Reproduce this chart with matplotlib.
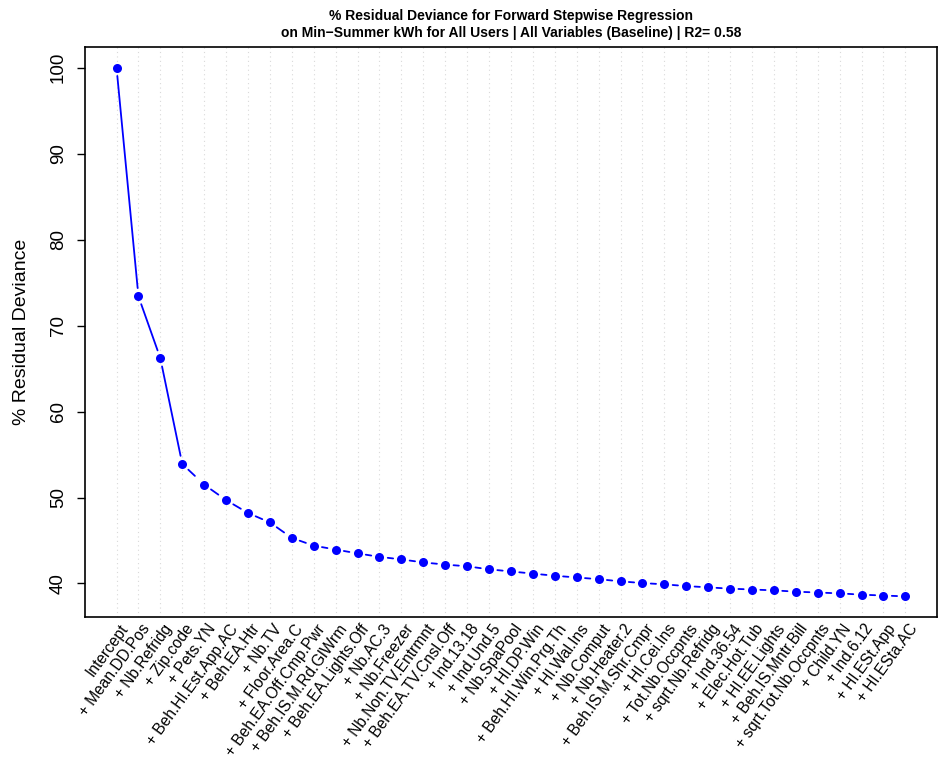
import matplotlib.pyplot as plt

plt.rcParams['font.family'] = ['Liberation Sans', 'DejaVu Sans']

# Step labels in the order they entered the model
steps = ["Intercept", "+ Mean.DD.Pos", "+ Nb.Refridg", "+ Zip.code", "+ Pets.YN",
         "+ Beh.HI.Est.App.AC", "+ Beh.EA.Htr", "+ Nb.TV", "+ Floor.Area.C",
         "+ Beh.EA.Off.Cmp.Pwr", "+ Beh.IS.M.Rd.GlWrm", "+ Beh.EA.Lights.Off",
         "+ Nb.AC.3", "+ Nb.Freezer", "+ Nb.Non.TV.Entrmnt", "+ Beh.EA.TV.Cnsl.Off",
         "+ Ind.13.18", "+ Ind.Und.5", "+ Nb.SpaPool", "+ HI.DP.Win",
         "+ Beh.HI.Win.Prg.Th", "+ HI.Wal.Ins", "+ Nb.Comput", "+ Nb.Heater.2",
         "+ Beh.IS.M.Shr.Cmpr", "+ HI.Cei.Ins", "+ Tot.Nb.Occpnts", "+ sqrt.Nb.Refridg",
         "+ Ind.36.54", "+ Elec.Hot.Tub", "+ HI.EE.Lights", "+ Beh.IS.Mntr.Bill",
         "+ sqrt.Tot.Nb.Occpnts", "+ Child.YN", "+ Ind.6.12", "+ HI.ESt.App",
         "+ HI.ESta.AC"]

# % residual deviance after each step
resid_dev = [100.0, 73.4, 66.2, 53.9, 51.5, 49.7, 48.2, 47.1, 45.3, 44.4, 43.95,
             43.5, 43.1, 42.8, 42.45, 42.2, 42.0, 41.65, 41.4, 41.15, 40.9, 40.7,
             40.5, 40.25, 40.05, 39.9, 39.7, 39.55, 39.4, 39.3, 39.2, 39.05, 38.95,
             38.85, 38.7, 38.6, 38.5]

n_solid = 3  # first segments drawn with a solid line

x = list(range(len(steps)))

fig = plt.figure(figsize=(9.43, 7.61), dpi=100)
ax = fig.add_axes([0.0901, 0.1892, 0.9035, 0.749])

# light dotted vertical guides at each step
for xi in x:
    ax.axvline(xi, color='#d9d9d9', linestyle=(0, (1, 3)), linewidth=0.8, zorder=0)

# connect points with small gaps around each marker (like R type="b")
for i in range(len(x) - 1):
    ls = '-' if i < n_solid else (0, (5, 5))
    ax.annotate('', xy=(x[i + 1], resid_dev[i + 1]), xytext=(x[i], resid_dev[i]),
                arrowprops=dict(arrowstyle='-', color='blue', lw=1.3, linestyle=ls,
                                shrinkA=6, shrinkB=6), zorder=2)
ax.plot(x, resid_dev, 'o', color='blue', markersize=6.5, markeredgewidth=0, zorder=3)

ax.set_xlim(-1.44, len(steps) - 1 + 1.44)
ax.set_ylim(36.1, 102.4)
ax.set_yticks([40, 50, 60, 70, 80, 90, 100])
ax.set_yticklabels(['40', '50', '60', '70', '80', '90', '100'], rotation=90,
                   va='center', fontsize=13.5)
ax.tick_params(axis='y', length=6, pad=7, width=1)

ax.set_xticks(x)
ax.set_xticklabels([])
ax.tick_params(axis='x', length=0)
for xi, lab in zip(x, steps):
    ax.text(xi + 0.12, -0.008, lab, transform=ax.get_xaxis_transform(),
            rotation=54, ha='right', va='top', rotation_mode='anchor', fontsize=11.2)

for sp in ax.spines.values():
    sp.set_linewidth(1.2)

ax.set_ylabel('% Residual Deviance', fontsize=14, labelpad=14)

mid = 0.0901 + 0.9035 / 2
fig.text(mid, 0.988, '% Residual Deviance for Forward Stepwise Regression',
         ha='center', va='top', fontsize=10, fontweight='bold')
fig.text(mid, 0.966,
         'on Min\u2212Summer kWh for All Users | All Variables (Baseline) | R2= 0.58',
         ha='center', va='top', fontsize=10, fontweight='bold')

fig.savefig('out.png', dpi=100)
